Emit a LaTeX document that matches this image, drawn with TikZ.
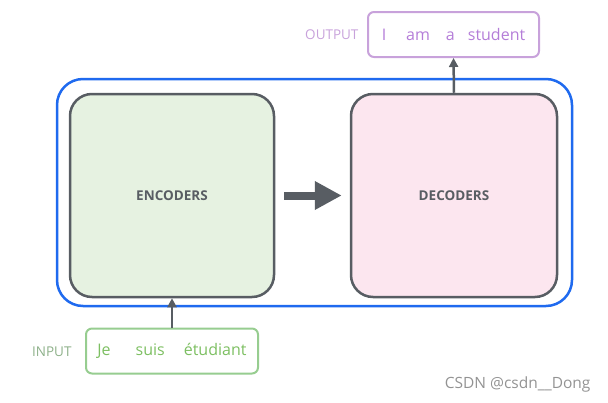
\documentclass[tikz,border=0pt]{standalone}
\usepackage{fontspec}
\setmainfont{Open Sans}
\usepackage{xcolor}
\usetikzlibrary{arrows.meta}
\definecolor{stackblue}{HTML}{1F6AEF}
\definecolor{boxgray}{HTML}{585D63}
\definecolor{encfill}{HTML}{E6F2E1}
\definecolor{decfill}{HTML}{FCE6EF}
\definecolor{outline}{HTML}{C8A2DB}
\definecolor{outtext}{HTML}{B47DD8}
\definecolor{inline}{HTML}{97CD90}
\definecolor{intext}{HTML}{7DBF62}
\definecolor{inlabel}{HTML}{8DB089}
\begin{document}
\begin{tikzpicture}[x=1pt,y=-1pt,
  coder/.style={draw=boxgray,line width=2.5pt,rounded corners=22pt,minimum width=204pt,minimum height=203pt,text=boxgray,font=\fontsize{13.5}{16}\selectfont\bfseries},
  wordbox/.style={line width=2pt,rounded corners=6pt,minimum height=45pt,font=\fontsize{16}{19}\selectfont},
  tag/.style={font=\fontsize{13.5}{16}\selectfont},
  uparrow/.style={boxgray,line width=2.5pt,-{Triangle[length=9pt,width=9pt]}}]
\useasboundingbox (0,0) rectangle (608,402);
\node[draw=stackblue,line width=2.5pt,rounded corners=26pt,minimum width=515pt,minimum height=227pt] (stack) at (314.5,192.5) {};
\node[coder,fill=encfill] (enc) at (172,195.5) {ENCODERS};
\node[coder,fill=decfill,minimum width=206pt] (dec) at (454,195.5) {DECODERS};
\draw[boxgray,line width=8pt,-{Triangle[length=27pt,width=27pt]}] ([xshift=9pt]enc.east) -- ([xshift=-8pt]dec.west);
\node[wordbox,draw=outline,text=outtext,minimum width=171pt] (out) at (453.5,34.5) {I\hspace{20pt}am\hspace{16pt}a\hspace{13pt}student};
\node[tag,text=outline,anchor=east] (outtag) at (362,35) {OUTPUT};
\node[wordbox,draw=inline,text=intext,minimum width=172pt] (in) at (172,351) {Je\hspace{25pt}suis\hspace{19pt}étudiant};
\node[tag,text=inlabel,anchor=east] (intag) at (75,352) {INPUT};
\draw[uparrow] (dec.north) -- (out.south);
\draw[uparrow] (in.north) -- (enc.south);
\node[text=gray!85,font=\fontsize{15.5}{18}\selectfont,anchor=east] (mark) at (594,384) {CSDN @csdn\_\_Dong};
\end{tikzpicture}
\end{document}
